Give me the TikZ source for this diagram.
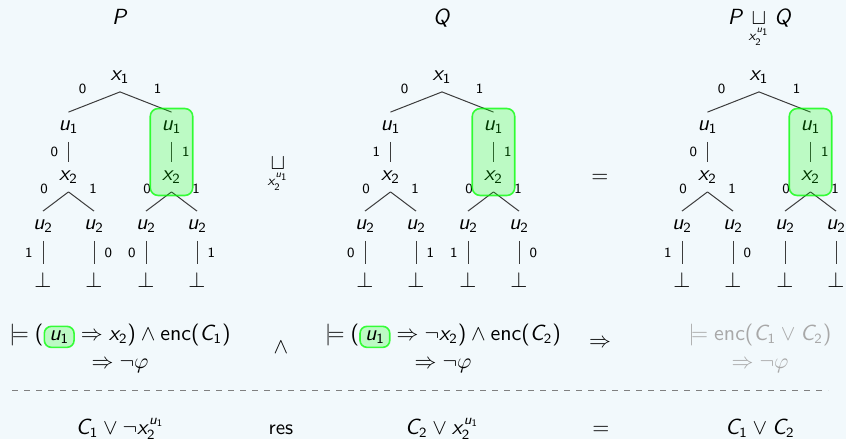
\documentclass[tikz,border=0pt]{standalone}
\usepackage{amsmath}
\usetikzlibrary{positioning, fit}
\definecolor{slideBg}{HTML}{F2F9FC}
\definecolor{edgeGray}{HTML}{3C3C3C}
\definecolor{fadedText}{HTML}{A8A8A8}
\definecolor{ruleGray}{HTML}{808080}

% beamer-like sans math letters
\DeclareSymbolFont{sfletters}{OT1}{cmss}{m}{sl}
\SetSymbolFont{operators}{normal}{OT1}{cmss}{m}{n}
\DeclareMathSymbol{x}{\mathalpha}{sfletters}{`x}
\DeclareMathSymbol{u}{\mathalpha}{sfletters}{`u}
\DeclareMathSymbol{C}{\mathalpha}{sfletters}{`C}
\DeclareMathSymbol{P}{\mathalpha}{sfletters}{`P}
\DeclareMathSymbol{Q}{\mathalpha}{sfletters}{`Q}

\tikzset{
  bdd/.style={inner sep=4pt},
  edge/.style={draw=edgeGray, line width=0.5pt},
  lab/.style={font=\fontsize{7}{8}\selectfont\sffamily, inner sep=2pt},
  hlbox/.style={draw=green, draw opacity=0.75, fill=green, fill opacity=0.22,
    rounded corners=4pt, line width=0.8pt},
  formula/.style={align=center},
}
\newcommand{\hl}[1]{\tikz[baseline=(h.base)]\node[hlbox, inner xsep=2.5pt, inner ysep=2pt, rounded corners=3.5pt, text opacity=1](h){$#1$};}

% one decision tree, #1 = label under left u1, #2..#5 = leaf labels
\newcommand{\bddtree}[5]{%
  \node[bdd] (x1) at (0,0) {$x_1$};
  \node[bdd] (u1l) at (-51.5,50) {$u_1$};
  \node[bdd] (u1r) at (51.5,50) {$u_1$};
  \node[bdd] (x2l) at (-51.5,100) {$x_2$};
  \node[bdd] (x2r) at (51.5,100) {$x_2$};
  \node[bdd] (u2a) at (-77,149) {$u_2$};
  \node[bdd] (u2b) at (-26,149) {$u_2$};
  \node[bdd] (u2c) at (26,149) {$u_2$};
  \node[bdd] (u2d) at (77,149) {$u_2$};
  \node[bdd] (bota) at (-77,203) {$\bot$};
  \node[bdd] (botb) at (-26,203) {$\bot$};
  \node[bdd] (botc) at (26,203) {$\bot$};
  \node[bdd] (botd) at (77,203) {$\bot$};
  \draw[edge] (x1.south) -- (u1l.north) node[lab, midway, above left=2.5pt] {0};
  \draw[edge] (x1.south) -- (u1r.north) node[lab, midway, above right=2.5pt] {1};
  \draw[edge] (u1l.south) -- (x2l.north) node[lab, midway, left=3pt] {#1};
  \draw[edge] (u1r.south) -- (x2r.north) node[lab, midway, right=3pt] {1};
  \draw[edge] (x2l.south) -- (u2a.north) node[lab, midway, above left=2.5pt] {0};
  \draw[edge] (x2l.south) -- (u2b.north) node[lab, midway, above right=2.5pt] {1};
  \draw[edge] (x2r.south) -- (u2c.north) node[lab, midway, above left=2.5pt] {0};
  \draw[edge] (x2r.south) -- (u2d.north) node[lab, midway, above right=2.5pt] {1};
  \draw[edge] (u2a.south) -- (bota.north) node[lab, midway, left=3pt] {#2};
  \draw[edge] (u2b.south) -- (botb.north) node[lab, midway, right=3pt] {#3};
  \draw[edge] (u2c.south) -- (botc.north) node[lab, midway, left=3pt] {#4};
  \draw[edge] (u2d.south) -- (botd.north) node[lab, midway, right=3pt] {#5};
  \node[hlbox, fit=(u1r)(x2r), inner xsep=1.5pt, inner ysep=1.8pt] (hl) {};
}

\begin{document}
\begin{tikzpicture}[x=0.5pt, y=-0.5pt,
    every node/.style={font=\fontsize{10.5}{13}\selectfont\sffamily}]
  \path[use as bounding box, fill=slideBg] (0,0) rectangle (846,439);
  \clip (0,0) rectangle (846,439);

  % titles
  \node[anchor=base] (tP) at (120,24.5) {$P$};
  \node[anchor=base] (tQ) at (442,24.5) {$Q$};
  \node[anchor=base] (tPQ) at (760,24.5) {$P \mathbin{\underset{x_2^{u_1}}{\sqcup}} Q$};

  % the three trees
  \begin{scope}[shift={(120,77)}, name prefix=p-]
    \bddtree{0}{1}{0}{0}{1}
  \end{scope}
  \begin{scope}[shift={(442,77)}, name prefix=q-]
    \bddtree{1}{0}{1}{1}{0}
  \end{scope}
  \begin{scope}[shift={(759,77)}, name prefix=r-]
    \bddtree{0}{1}{0}{}{}
  \end{scope}
  \node (join) at (278,175) {$\underset{x_2^{u_1}}{\sqcup}$};
  \node (eqtree) at (600,178) {$=$};

  % entailments
  \node[formula] (fP) at (120,348)
    {$\models (\hl{u_1} \Rightarrow x_2) \wedge \operatorname{enc}(C_1)$\\[1pt]
     $\Rightarrow \neg\varphi$};
  \node (andop) at (281,347) {$\wedge$};
  \node[formula] (fQ) at (443,348)
    {$\models (\hl{u_1} \Rightarrow \neg x_2) \wedge \operatorname{enc}(C_2)$\\[1pt]
     $\Rightarrow \neg\varphi$};
  \node (impop) at (600,343) {$\Rightarrow$};
  \node[formula, text=fadedText] (fR) at (760,348)
    {$\models \operatorname{enc}(C_1 \vee C_2)$\\[1pt]
     $\Rightarrow \neg\varphi$};

  \draw[ruleGray, dashed] (12,390) -- (828,390);

  % resolution row
  \node[anchor=base] (cP) at (120,434) {$C_1 \vee \neg x_2^{u_1}$};
  \node[anchor=base] (res) at (281,434) {res};
  \node[anchor=base] (cQ) at (442,434) {$C_2 \vee x_2^{u_1}$};
  \node[anchor=base] (eqres) at (601,434) {$=$};
  \node[anchor=base] (cR) at (760,434) {$C_1 \vee C_2$};
\end{tikzpicture}
\end{document}
